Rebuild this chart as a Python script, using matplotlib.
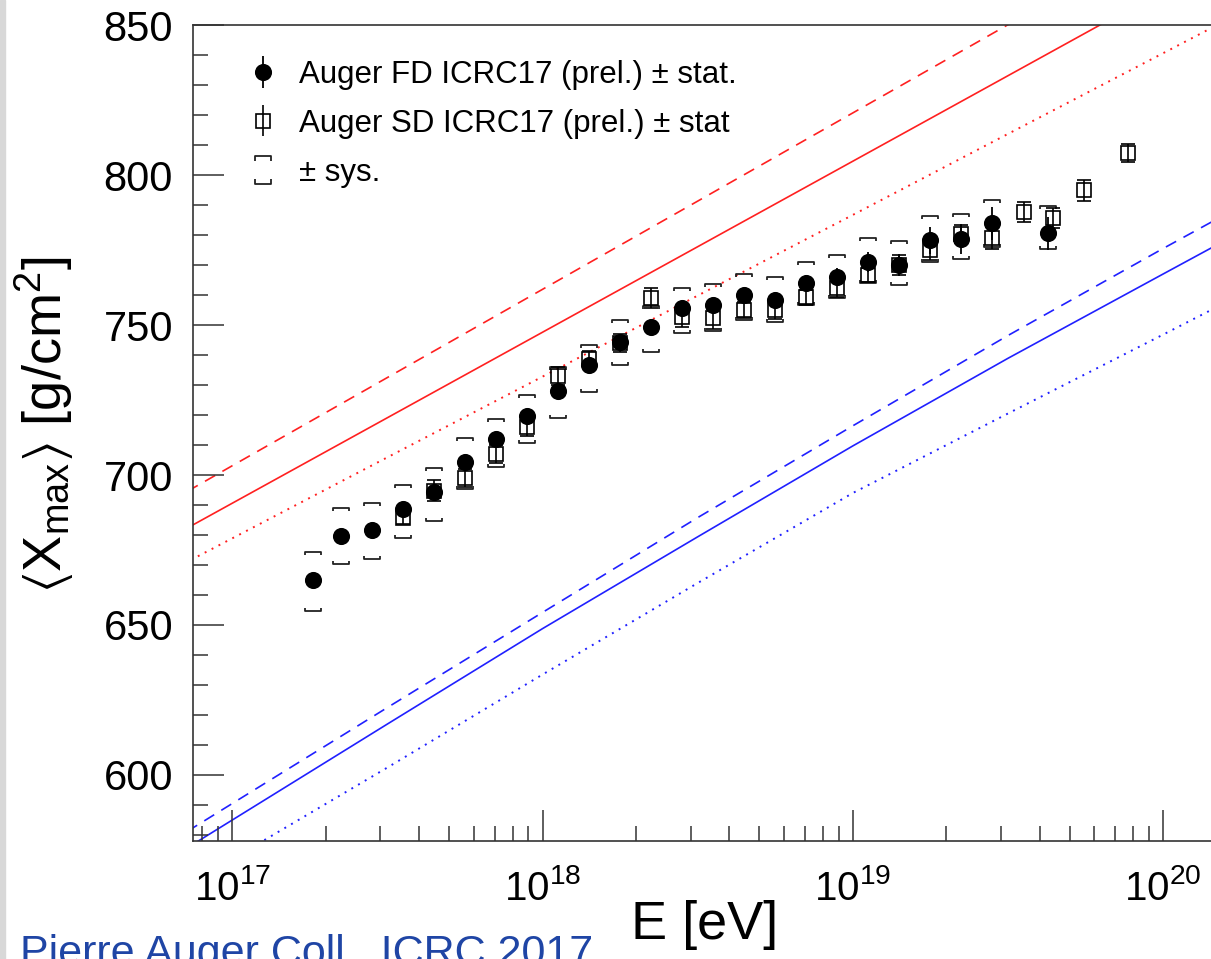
import numpy as np
import matplotlib.pyplot as plt
from matplotlib.path import Path
from matplotlib.lines import Line2D
from matplotlib.patches import Rectangle
from matplotlib.ticker import MultipleLocator, LogLocator, NullFormatter

plt.rcParams['font.family'] = ['Liberation Sans', 'DejaVu Sans']
plt.rcParams['mathtext.fontset'] = 'custom'
plt.rcParams['mathtext.rm'] = 'Liberation Sans'
plt.rcParams['mathtext.it'] = 'Liberation Sans:italic'
plt.rcParams['mathtext.default'] = 'regular'
plt.rcParams['mathtext.fallback'] = 'stixsans'

# Auger FD (log10 E, <Xmax>, stat, sys up, sys down)
fd_lgE = [17.26, 17.35, 17.45, 17.55, 17.65, 17.75, 17.85, 17.95, 18.05, 18.15, 18.25, 18.35,
          18.45, 18.55, 18.65, 18.75, 18.85, 18.95, 19.05, 19.15, 19.25, 19.35, 19.45, 19.63]
fd_xmax = [665.0, 679.7, 681.7, 688.6, 694.4, 704.4, 711.9, 719.8, 728.0, 736.7, 744.4, 749.4,
           755.6, 756.7, 760.0, 758.3, 763.9, 765.9, 771.1, 770.0, 778.3, 778.6, 783.9, 780.6]
fd_stat = [2.5, 2.0, 1.8, 1.6, 1.5, 1.4, 1.4, 1.4, 1.5, 1.6, 1.7, 1.8,
           1.9, 2.0, 2.2, 2.4, 2.7, 3.0, 3.3, 3.7, 4.5, 5.0, 5.5, 5.5]
fd_sys_up = [9.4, 9.2, 8.9, 8.1, 7.8, 7.8, 6.7, 6.9, 8.1, 6.6, 7.3, 7.0,
             6.6, 6.9, 7.0, 7.6, 7.2, 7.4, 7.8, 8.1, 8.0, 8.4, 7.8, 9.1]
fd_sys_low = [10.3, 9.5, 9.8, 9.7, 9.6, 9.1, 9.3, 9.2, 9.1, 9.1, 7.7, 8.3,
              8.4, 8.6, 8.3, 7.2, 7.2, 7.0, 7.2, 6.7, 7.2, 6.7, 7.9, 5.3]

# Auger SD
sd_lgE = [17.55, 17.65, 17.75, 17.85, 17.95, 18.05, 18.15, 18.25, 18.35, 18.45, 18.55, 18.65,
          18.75, 18.85, 18.95, 19.05, 19.15, 19.25, 19.35, 19.45, 19.55, 19.645, 19.745, 19.887]
sd_xmax = [685.8, 694.8, 699.0, 707.0, 716.0, 733.0, 738.7, 744.0, 759.0, 752.7, 752.3, 755.0,
           755.0, 759.3, 762.3, 766.7, 770.0, 775.0, 780.5, 779.0, 787.7, 785.7, 795.0, 807.3]
sd_stat = [2.2, 3.5, 3.0, 3.0, 3.0, 3.0, 2.8, 3.0, 3.2, 3.5, 3.5, 2.7,
           3.0, 2.5, 3.0, 2.3, 3.4, 3.3, 3.0, 3.7, 3.3, 3.3, 3.5, 3.0]

# model predictions (proton red, iron blue)
model_lgE = [16.8, 17.0, 17.5, 18.0, 18.5, 19.0, 19.5, 20.0, 20.3]
p_solid = [679.2, 690.6, 719.1, 747.6, 776.1, 804.6, 833.1, 861.6, 878.7]
p_dashed = [691.3, 703.1, 732.5, 761.9, 791.3, 820.7, 850.1, 879.5, 897.2]
p_dotted = [668.1, 678.9, 705.9, 732.8, 759.8, 786.7, 813.7, 840.6, 856.8]
fe_solid = [572.2, 585.0, 617.0, 648.8, 679.4, 709.7, 738.9, 767.0, 783.8]
fe_dashed = [577.7, 590.5, 622.5, 654.2, 685.8, 716.4, 746.5, 775.5, 792.5]
fe_dotted = [560.0, 572.0, 602.5, 633.5, 664.0, 694.0, 720.5, 746.8, 762.7]

W, H = 1211, 959
fig = plt.figure(figsize=(W / 100, H / 100), dpi=100)
fig.patches.append(Rectangle((0, 0), 5 / W, 1, transform=fig.transFigure,
                             color='#d8d8d8', zorder=0))

ax = fig.add_axes([192.5 / W, 1 - 841 / H, (W - 192.5) / W, (841 - 25) / H])
ax.set_xscale('log')
ax.set_xlim(10 ** 16.8717, 10 ** 20.1543)
ax.set_ylim(578, 850)

mE = 10 ** np.array(model_lgE)
ax.plot(mE, p_solid, color='#ff2020', lw=1.2, zorder=1)
ax.plot(mE, p_dashed, color='#ff2020', lw=1.2, dashes=(7, 5), zorder=1)
ax.plot(mE, p_dotted, color='#ff2020', lw=1.4, dashes=(1, 3), zorder=1)
ax.plot(mE, fe_solid, color='#2020ff', lw=1.2, zorder=1)
ax.plot(mE, fe_dashed, color='#2020ff', lw=1.2, dashes=(7, 5), zorder=1)
ax.plot(mE, fe_dotted, color='#2020ff', lw=1.4, dashes=(1, 3), zorder=1)

fdE = 10 ** np.array(fd_lgE)
fdX = np.array(fd_xmax)
sdE = 10 ** np.array(sd_lgE)

fd = ax.errorbar(fdE, fdX, yerr=fd_stat, fmt='o', color='black', ms=11.3,
                 elinewidth=1.3, capsize=0, zorder=3)
ax.errorbar(sdE, sd_xmax, yerr=sd_stat, fmt='s', mfc='none', mec='black', mew=1.2,
            ms=9.5, ecolor='black', elinewidth=1.2, capsize=5, capthick=1.2, zorder=4)

# systematic brackets
top_br = Path([(-1, -0.34), (-1, 0), (1, 0), (1, -0.34)])
bot_br = Path([(-1, 0.34), (-1, 0), (1, 0), (1, 0.34)])
ax.plot(fdE, fdX + np.array(fd_sys_up), ls='none', marker=top_br, ms=12,
        mec='#222222', mfc='none', mew=1.3, zorder=2)
ax.plot(fdE, fdX - np.array(fd_sys_low), ls='none', marker=bot_br, ms=12,
        mec='#222222', mfc='none', mew=1.3, zorder=2)

# legend proxies
sd_proxy = ax.errorbar([np.nan], [np.nan], yerr=[1], fmt='s', mfc='none', mec='black',
                       mew=1.2, ms=9.5, ecolor='black', elinewidth=1.2, capsize=0)
both_br = Path([(-1, 1.1), (-1, 1.7), (1, 1.7), (1, 1.1),
                (-1, -1.1), (-1, -1.7), (1, -1.7), (1, -1.1)],
               [Path.MOVETO, Path.LINETO, Path.LINETO, Path.LINETO,
                Path.MOVETO, Path.LINETO, Path.LINETO, Path.LINETO])
sys_proxy = Line2D([], [], ls='none', marker=both_br, ms=20.8, mec='#222222',
                   mfc='none', mew=1.3)
leg = ax.legend([fd, sd_proxy, sys_proxy],
                ['Auger FD ICRC17 (prel.) \u00b1 stat.',
                 'Auger SD ICRC17 (prel.) \u00b1 stat',
                 '\u00b1 sys.'],
                loc='upper left', bbox_to_anchor=(240 / W, 1 - 60 / H),
                bbox_transform=fig.transFigure, frameon=False, fontsize=22.5,
                handlelength=1.5, handletextpad=0.4, labelspacing=0.6,
                borderpad=0, borderaxespad=0)

# axes styling
for side in ['left', 'top', 'bottom']:
    ax.spines[side].set_linewidth(1.2)
    ax.spines[side].set_color('#333333')
ax.spines['right'].set_visible(False)

ax.yaxis.set_major_locator(MultipleLocator(50))
ax.yaxis.set_minor_locator(MultipleLocator(10))
ax.xaxis.set_major_locator(LogLocator(base=10))
ax.xaxis.set_minor_locator(LogLocator(base=10, subs=np.arange(2, 10)))
ax.xaxis.set_minor_formatter(NullFormatter())
ax.tick_params(which='both', direction='in', top=False, right=False,
               color='#333333', width=1.1)
ax.tick_params(which='major', length=22)
ax.tick_params(which='minor', length=11)
ax.tick_params(axis='y', labelsize=30, pad=14)
ax.tick_params(axis='x', labelsize=29, pad=20)

fig.text(705 / W, 1 - 925 / H, 'E [eV]', fontsize=39, ha='center', va='center')
fig.text(45 / W, 1 - 425 / H, r'$\langle$X$_{max}$$\rangle$ [g/cm$^{2}$]', fontsize=39,
         rotation=90, ha='center', va='center')
fig.text(20 / W, 1 - 965 / H, 'Pierre Auger Coll., ICRC 2017', fontsize=31,
         color='#1f45a5', ha='left', va='baseline')

fig.savefig('out.png', dpi=100)
